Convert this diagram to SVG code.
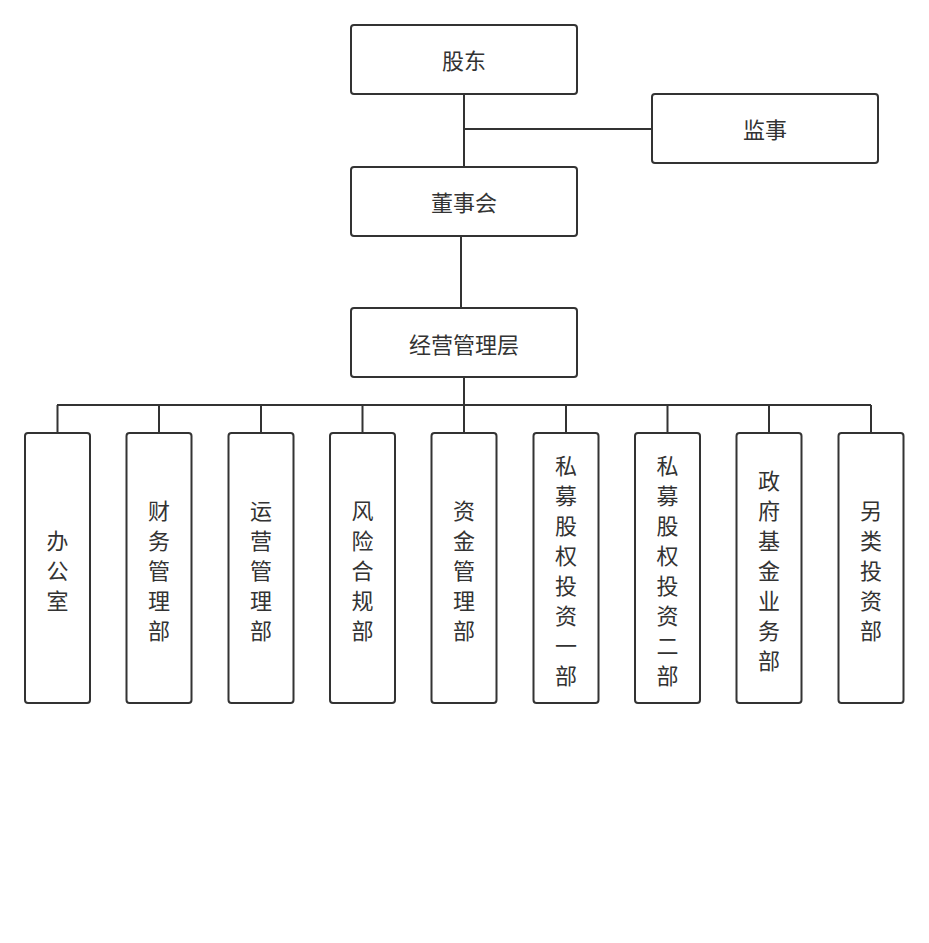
<svg xmlns="http://www.w3.org/2000/svg" width="929" height="943" viewBox="0 0 929 943">
<style>
.box{fill:#fff;stroke:#333;stroke-width:2}
.t{font-family:"Noto Sans CJK SC","Noto Sans CJK JP",sans-serif;font-size:22px;fill:#333;text-anchor:middle;dominant-baseline:central}
.c{fill:none;stroke:#333;stroke-width:2}
</style>
<rect width="929" height="943" fill="#fff"/>
<g id="connectors">
<path class="c" d="M464 94V167M465 129H652M461 237V308M464 378V405M57 405H871M57.5 405V433M159 405V433M261 405V433M362.5 405V433M464 405V433M566 405V433M667.5 405V433M769 405V433M871 405V433"/>
</g>
<g id="gudong"><rect class="box" x="351" y="25" width="226" height="69" rx="3"/><text class="t" x="464" y="59">股东</text></g>
<g id="jianshi"><rect class="box" x="652" y="94" width="226" height="69" rx="3"/><text class="t" x="765" y="128">监事</text></g>
<g id="dongshihui"><rect class="box" x="351" y="167" width="226" height="69" rx="3"/><text class="t" x="464" y="201">董事会</text></g>
<g id="jingying"><rect class="box" x="351" y="308" width="226" height="69" rx="3"/><text class="t" x="464" y="343">经营管理层</text></g>
<g id="d1"><rect class="box" x="25" y="433" width="65" height="270" rx="3"/><text class="t" x="57.5"><tspan x="57.5" y="539">办</tspan><tspan x="57.5" y="569">公</tspan><tspan x="57.5" y="599">室</tspan></text></g>
<g id="d2"><rect class="box" x="126.5" y="433" width="65" height="270" rx="3"/><text class="t"><tspan x="159" y="509">财</tspan><tspan x="159" y="539">务</tspan><tspan x="159" y="569">管</tspan><tspan x="159" y="599">理</tspan><tspan x="159" y="629">部</tspan></text></g>
<g id="d3"><rect class="box" x="228.5" y="433" width="65" height="270" rx="3"/><text class="t"><tspan x="261" y="509">运</tspan><tspan x="261" y="539">营</tspan><tspan x="261" y="569">管</tspan><tspan x="261" y="599">理</tspan><tspan x="261" y="629">部</tspan></text></g>
<g id="d4"><rect class="box" x="330" y="433" width="65" height="270" rx="3"/><text class="t"><tspan x="362.5" y="509">风</tspan><tspan x="362.5" y="539">险</tspan><tspan x="362.5" y="569">合</tspan><tspan x="362.5" y="599">规</tspan><tspan x="362.5" y="629">部</tspan></text></g>
<g id="d5"><rect class="box" x="431.5" y="433" width="65" height="270" rx="3"/><text class="t"><tspan x="464" y="509">资</tspan><tspan x="464" y="539">金</tspan><tspan x="464" y="569">管</tspan><tspan x="464" y="599">理</tspan><tspan x="464" y="629">部</tspan></text></g>
<g id="d6"><rect class="box" x="533.5" y="433" width="65" height="270" rx="3"/><text class="t"><tspan x="566" y="464">私</tspan><tspan x="566" y="494">募</tspan><tspan x="566" y="524">股</tspan><tspan x="566" y="554">权</tspan><tspan x="566" y="584">投</tspan><tspan x="566" y="614">资</tspan><tspan x="566" y="644">一</tspan><tspan x="566" y="674">部</tspan></text></g>
<g id="d7"><rect class="box" x="635" y="433" width="65" height="270" rx="3"/><text class="t"><tspan x="667.5" y="464">私</tspan><tspan x="667.5" y="494">募</tspan><tspan x="667.5" y="524">股</tspan><tspan x="667.5" y="554">权</tspan><tspan x="667.5" y="584">投</tspan><tspan x="667.5" y="614">资</tspan><tspan x="667.5" y="644">二</tspan><tspan x="667.5" y="674">部</tspan></text></g>
<g id="d8"><rect class="box" x="736.5" y="433" width="65" height="270" rx="3"/><text class="t"><tspan x="769" y="479">政</tspan><tspan x="769" y="509">府</tspan><tspan x="769" y="539">基</tspan><tspan x="769" y="569">金</tspan><tspan x="769" y="599">业</tspan><tspan x="769" y="629">务</tspan><tspan x="769" y="659">部</tspan></text></g>
<g id="d9"><rect class="box" x="838.5" y="433" width="65" height="270" rx="3"/><text class="t"><tspan x="871" y="509">另</tspan><tspan x="871" y="539">类</tspan><tspan x="871" y="569">投</tspan><tspan x="871" y="599">资</tspan><tspan x="871" y="629">部</tspan></text></g>
</svg>
